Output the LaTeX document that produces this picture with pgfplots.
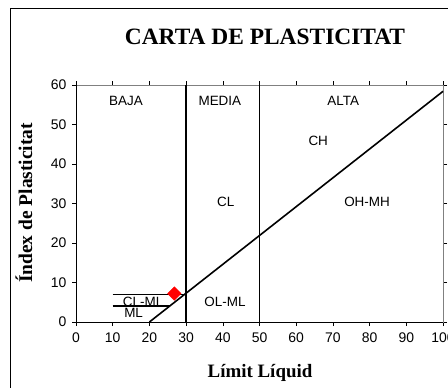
\documentclass[border=0pt]{standalone}
\usepackage{pgfplots}
\pgfplotsset{compat=1.18}
\usepackage{fontspec}
\setmainfont{Liberation Serif}
\newfontfamily\arial{Liberation Sans}
\tikzset{lbl/.style={font=\arial\fontsize{13.5}{15}\selectfont}}
\begin{document}
\begin{tikzpicture}[x=1bp,y=1bp]
\useasboundingbox (0,0) rectangle (448,387);
\draw[line width=1.2bp] (10.5,-10) rectangle (470,378.5);
\node[font=\fontsize{23.5}{26}\selectfont\bfseries] at (265,350) {CARTA DE PLASTICITAT};
\node[font=\fontsize{19}{22}\selectfont\bfseries, anchor=base] at (260,10) {Límit Líquid};
\node[font=\fontsize{19.5}{22}\selectfont\bfseries,rotate=90] at (24,184) {Índex de Plasticitat};
\begin{axis}[
  at={(76bp,65bp)}, anchor=south west,
  scale only axis, width=367bp, height=237bp,
  xmin=0, xmax=100, ymin=0, ymax=60,
  xtick={0,10,...,100}, ytick={0,10,...,60},
  tick align=outside, major tick length=4bp,
  tick style={black, line width=0.6bp},
  axis line style={gray, line width=0.8bp},
  tick label style={font=\arial\fontsize{14}{16}\selectfont},
  /pgf/number format/assume math mode=true,
  xticklabel style={yshift=-3bp},
  yticklabel style={xshift=-2bp},
  clip=false,
]
\draw[black, line width=0.8bp] (axis cs:0,60) -- (axis cs:0,0) -- (axis cs:100,0);
\addplot[black, line width=1.6bp] coordinates {(20,0) (100,58.4)};
\addplot[black, line width=1.6bp] coordinates {(30,0) (30,60)};
\addplot[black, line width=1.6bp] coordinates {(50,0) (50,60)};
\addplot[black, line width=1.6bp] coordinates {(10,7) (29.6,7)};
\addplot[black, line width=1.6bp] coordinates {(10,4) (25.5,4)};
\addplot[only marks, mark=square*, mark size=4.8bp, color=red, mark options={fill=red, draw=red, rotate=45}] coordinates {(26.8,7.2)};
\node[lbl] at (axis cs:13.6,56) {BAJA};
\node[lbl] at (axis cs:39.2,56) {MEDIA};
\node[lbl] at (axis cs:72.8,56) {ALTA};
\node[lbl] at (axis cs:66,45.8) {CH};
\node[lbl] at (axis cs:40.8,30.4) {CL};
\node[lbl] at (axis cs:79.3,30.4) {OH-MH};
\node[lbl] at (axis cs:40.6,5.2) {OL-ML};
\node[lbl] at (axis cs:18.3,5.2) {CL-ML};
\node[lbl] at (axis cs:15.7,2.2) {ML};
\end{axis}
\end{tikzpicture}
\end{document}
